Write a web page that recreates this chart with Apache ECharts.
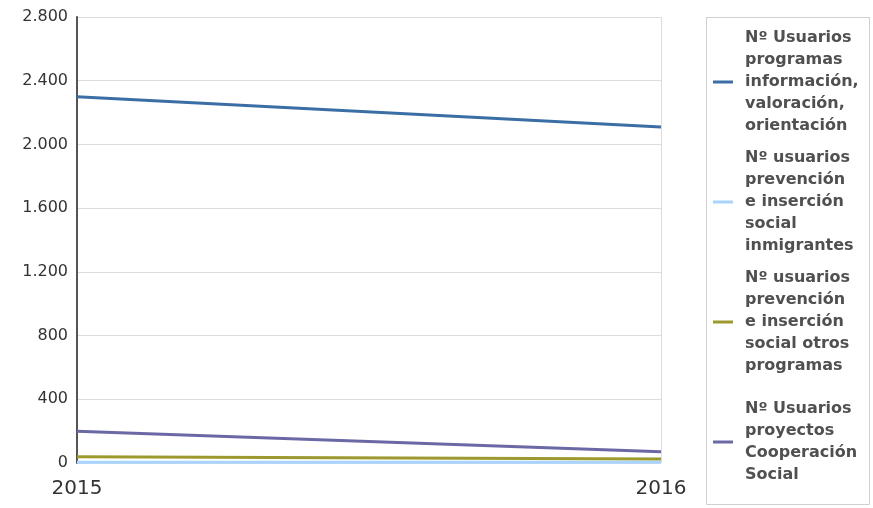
<!DOCTYPE html>
<html>
<head>
<meta charset="utf-8">
<script src="https://cdn.jsdelivr.net/npm/echarts@6/dist/echarts.min.js"></script>
<style>
  html, body { margin: 0; padding: 0; background: #fff; }
  #chart { width: 873px; height: 508px; }
</style>
</head>
<body>
<div id="chart"></div>
<script>
// años
var years = ["2015", "2016"];
var seriesNames = [
  "Nº Usuarios programas información, valoración, orientación",
  "Nº usuarios prevención e inserción social inmigrantes",
  "Nº usuarios prevención e inserción social otros programas",
  "Nº Usuarios proyectos Cooperación Social"
];
// texto de la leyenda partido en líneas
var legendLabels = [
  "Nº Usuarios\nprogramas\ninformación,\nvaloración,\norientación",
  "Nº usuarios\nprevención\ne inserción\nsocial\ninmigrantes",
  "Nº usuarios\nprevención\ne inserción\nsocial otros\nprogramas",
  "Nº Usuarios\nproyectos\nCooperación\nSocial"
];
var informacion = [2300, 2110];
var inmigrantes = [5, 5];
var otrosProgramas = [40, 25];
var cooperacion = [200, 70];
var colors = ["#3a6ea5", "#a8d4ff", "#9c9a2e", "#6b68a6"];

var chart = echarts.init(document.getElementById("chart"));
var font = "DejaVu Sans";
var legendTops = [27, 147, 267, 398];

function makeSeries(i, data) {
  return {
    name: seriesNames[i],
    type: "line",
    data: data,
    symbol: "none",
    animation: false,
    lineStyle: { color: colors[i], width: 3 },
    itemStyle: { color: colors[i] }
  };
}

chart.setOption({
  backgroundColor: "#fff",
  textStyle: { fontFamily: font },
  grid: { left: 77, right: 212, top: 17, bottom: 45 },
  graphic: [{
    type: "rect",
    shape: { x: 706.5, y: 17.5, width: 163, height: 487 },
    style: { fill: "none", stroke: "#d0d0d0", lineWidth: 1 },
    silent: true
  }],
  legend: seriesNames.map(function (n, i) {
    return {
      orient: "vertical",
      left: 713,
      top: legendTops[i],
      padding: 0,
      itemWidth: 20,
      itemHeight: 3,
      icon: "rect",
      data: [n],
      formatter: function () { return legendLabels[i]; },
      textStyle: {
        fontFamily: font,
        fontSize: 16,
        fontWeight: "bold",
        color: "#505050",
        lineHeight: 22,
        padding: [0, 0, 0, 7]
      }
    };
  }),
  xAxis: {
    type: "category",
    data: years,
    boundaryGap: false,
    axisLine: { show: false },
    axisTick: { show: false },
    axisLabel: { fontSize: 20, color: "#333", margin: 16, fontFamily: font },
    splitLine: { show: true, lineStyle: { color: "#dcdcdc", width: 1 } }
  },
  yAxis: {
    type: "value",
    min: 0,
    max: 2800,
    interval: 400,
    axisLine: { show: true, lineStyle: { color: "#555", width: 2 } },
    axisTick: { show: false },
    axisLabel: {
      fontSize: 16,
      color: "#333",
      margin: 9,
      fontFamily: font,
      formatter: function (v) {
        return String(v).replace(/\B(?=(\d{3})+(?!\d))/g, ".");
      }
    },
    splitLine: { lineStyle: { color: "#dcdcdc", width: 1 } }
  },
  series: [
    makeSeries(0, informacion),
    makeSeries(1, inmigrantes),
    makeSeries(2, otrosProgramas),
    makeSeries(3, cooperacion)
  ]
});
</script>
</body>
</html>
